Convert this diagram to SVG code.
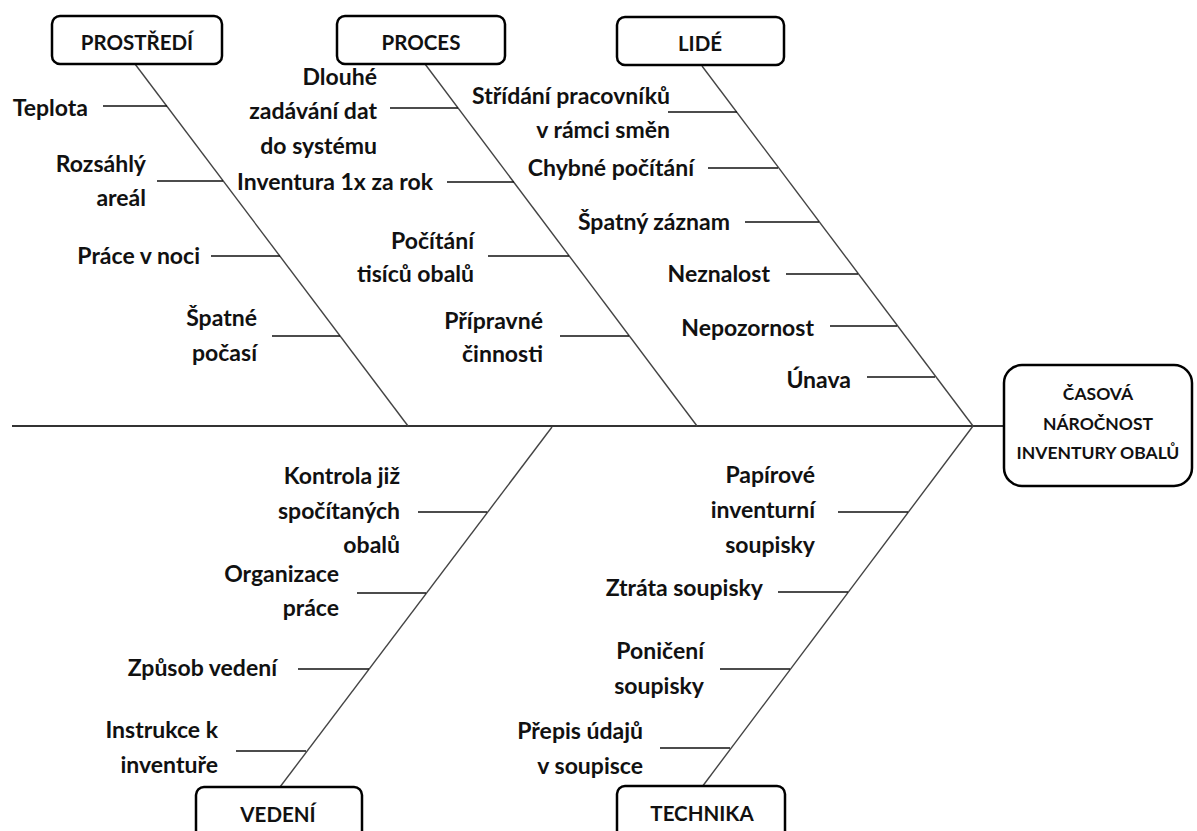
<svg xmlns="http://www.w3.org/2000/svg" width="1197" height="831" viewBox="0 0 1197 831">
<style>
.lbl{font-family:Lato,"Liberation Sans",sans-serif;font-weight:bold;font-size:23px;fill:#111;text-anchor:end;dominant-baseline:central}
.hd{font-family:Lato,"Liberation Sans",sans-serif;font-weight:bold;font-size:20.5px;fill:#111;text-anchor:middle;dominant-baseline:central}
.sm{font-size:17.5px}
.box{fill:#fff;stroke:#000;stroke-width:2.5}
.bone{stroke:#444;stroke-width:1.4;fill:none}
.br{stroke:#111;stroke-width:1.5;fill:none}
.spine{stroke:#333;stroke-width:2;fill:none}
</style>
<rect width="1197" height="831" fill="#fff"/>
<g id="connectors">
<line class="spine" x1="12" y1="426" x2="1004" y2="426"/>
<line class="bone" x1="135" y1="64" x2="408" y2="426"/>
<line class="bone" x1="425" y1="64" x2="697" y2="426"/>
<line class="bone" x1="702" y1="66" x2="973" y2="426"/>
<line class="bone" x1="552" y1="427" x2="280" y2="787"/>
<line class="bone" x1="973" y1="426" x2="702" y2="787"/>
<line class="br" x1="103" y1="106" x2="167" y2="106"/>
<line class="br" x1="157" y1="181" x2="223" y2="181"/>
<line class="br" x1="211" y1="256" x2="280" y2="256"/>
<line class="br" x1="272" y1="336" x2="340" y2="336"/>
<line class="br" x1="390" y1="108" x2="458" y2="108"/>
<line class="br" x1="447" y1="182" x2="514" y2="182"/>
<line class="br" x1="488" y1="256" x2="569" y2="256"/>
<line class="br" x1="560" y1="336" x2="629" y2="336"/>
<line class="br" x1="668" y1="112" x2="737" y2="112"/>
<line class="br" x1="708" y1="168" x2="778" y2="168"/>
<line class="br" x1="745" y1="222" x2="819" y2="222"/>
<line class="br" x1="786" y1="274" x2="858" y2="274"/>
<line class="br" x1="830" y1="326" x2="897" y2="326"/>
<line class="br" x1="867" y1="377" x2="935" y2="377"/>
<line class="br" x1="418" y1="512" x2="487" y2="512"/>
<line class="br" x1="357" y1="593" x2="426" y2="593"/>
<line class="br" x1="298" y1="669" x2="369" y2="669"/>
<line class="br" x1="236" y1="751" x2="306" y2="751"/>
<line class="br" x1="838" y1="512" x2="908" y2="512"/>
<line class="br" x1="778" y1="592" x2="848" y2="592"/>
<line class="br" x1="720" y1="669" x2="790" y2="669"/>
<line class="br" x1="660" y1="748" x2="730" y2="748"/>
</g>
<g id="prostredi"><rect class="box" x="52" y="16" width="170" height="48" rx="8"/><text class="hd" x="137" y="42">PROSTŘEDÍ</text></g>
<g id="proces"><rect class="box" x="337" y="16" width="168" height="48" rx="8"/><text class="hd" x="421" y="42">PROCES</text></g>
<g id="lide"><rect class="box" x="617" y="17" width="167" height="48" rx="8"/><text class="hd" x="700" y="43">LIDÉ</text></g>
<g id="vedeni"><rect class="box" x="196" y="787" width="166" height="60" rx="8"/><text class="hd" x="278" y="814">VEDENÍ</text></g>
<g id="technika"><rect class="box" x="617" y="786" width="168" height="60" rx="8"/><text class="hd" x="702" y="813">TECHNIKA</text></g>
<g id="effect"><rect class="box" x="1004" y="365" width="188" height="121" rx="18"/>
<text class="hd sm" x="1098" y="393">ČASOVÁ</text>
<text class="hd sm" x="1098" y="423">NÁROČNOST</text>
<text class="hd sm" x="1098" y="452">INVENTURY OBALŮ</text></g>
<g id="labels-prostredi">
<text class="lbl" x="88" y="107">Teplota</text>
<text class="lbl" x="146" y="163">Rozsáhlý</text><text class="lbl" x="146" y="197">areál</text>
<text class="lbl" x="200" y="255">Práce v noci</text>
<text class="lbl" x="257" y="317">Špatné</text><text class="lbl" x="257" y="352">počasí</text>
</g>
<g id="labels-proces">
<text class="lbl" x="377" y="76">Dlouhé</text><text class="lbl" x="377" y="110">zadávání dat</text><text class="lbl" x="377" y="145">do systému</text>
<text class="lbl" x="433" y="181">Inventura 1x za rok</text>
<text class="lbl" x="474" y="240">Počítání</text><text class="lbl" x="474" y="273">tisíců obalů</text>
<text class="lbl" x="543" y="320">Přípravné</text><text class="lbl" x="543" y="353">činnosti</text>
</g>
<g id="labels-lide">
<text class="lbl" x="670" y="95">Střídání pracovníků</text><text class="lbl" x="670" y="129">v rámci směn</text>
<text class="lbl" x="694" y="167">Chybné počítání</text>
<text class="lbl" x="730" y="221">Špatný záznam</text>
<text class="lbl" x="770" y="273">Neznalost</text>
<text class="lbl" x="814" y="327">Nepozornost</text>
<text class="lbl" x="851" y="379">Únava</text>
</g>
<g id="labels-vedeni">
<text class="lbl" x="400" y="475">Kontrola již</text><text class="lbl" x="400" y="510">spočítaných</text><text class="lbl" x="400" y="544">obalů</text>
<text class="lbl" x="339" y="573">Organizace</text><text class="lbl" x="339" y="607">práce</text>
<text class="lbl" x="277" y="667">Způsob vedení</text>
<text class="lbl" x="218" y="729">Instrukce k</text><text class="lbl" x="218" y="764">inventuře</text>
</g>
<g id="labels-technika">
<text class="lbl" x="815" y="474">Papírové</text><text class="lbl" x="815" y="509">inventurní</text><text class="lbl" x="815" y="544">soupisky</text>
<text class="lbl" x="763" y="587">Ztráta  soupisky</text>
<text class="lbl" x="704" y="650">Poničení</text><text class="lbl" x="704" y="685">soupisky</text>
<text class="lbl" x="643" y="730">Přepis údajů</text><text class="lbl" x="643" y="765">v soupisce</text>
</g>
</svg>
